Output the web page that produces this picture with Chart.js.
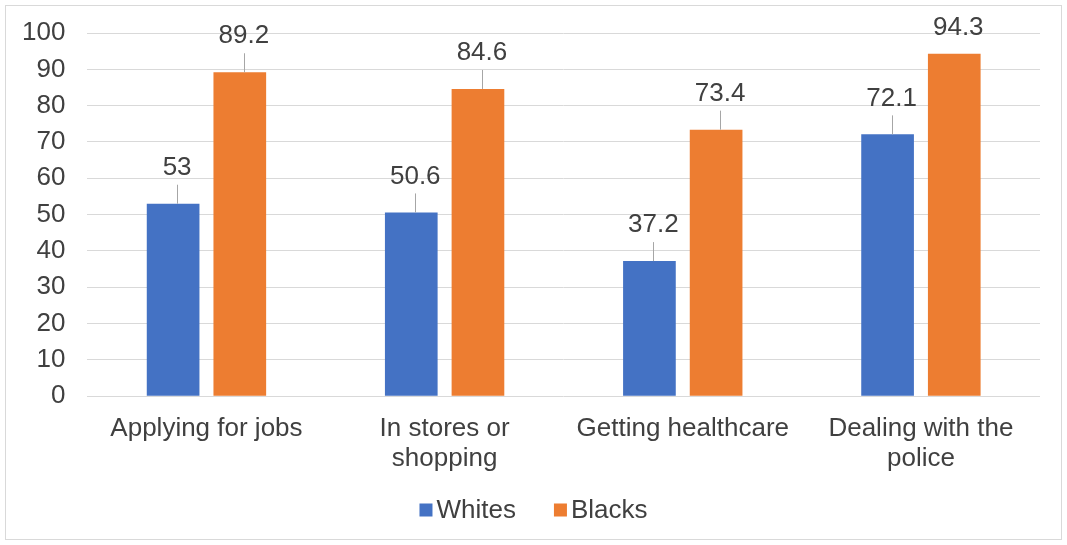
<!DOCTYPE html>
<html>
<head>
<meta charset="utf-8">
<script src="https://cdn.jsdelivr.net/npm/chart.js@4/dist/chart.umd.min.js"></script>
<style>
  body { margin: 0; background: #fff; }
  #wrap { width: 1067px; height: 545px; position: relative; }
</style>
</head>
<body>
<div id="wrap"><canvas id="chart"></canvas></div>
<script>
// data
var categories = [['Applying for jobs'], ['In stores or', 'shopping'], ['Getting healthcare'], ['Dealing with the', 'police']];
var whites = [53, 50.6, 37.2, 72.1];
var blacks = [89.2, 84.6, 73.4, 94.3];
var yTicks = [0, 10, 20, 30, 40, 50, 60, 70, 80, 90, 100];

var textColor = '#404040';
var fontName = "'Liberation Sans', Arial, sans-serif";
Chart.defaults.font.family = fontName;
Chart.defaults.font.size = 26;
Chart.defaults.color = textColor;

// outer frame
var framePlugin = {
  id: 'frame',
  afterDraw: function(chart) {
    var ctx = chart.ctx;
    ctx.save();
    ctx.strokeStyle = '#d9d9d9';
    ctx.lineWidth = 1;
    ctx.strokeRect(5.5, 5.5, chart.width - 11, chart.height - 11);
    ctx.restore();
  }
};

// legend drawn by hand so the box sits close to the text
var legendPlugin = {
  id: 'tightLegend',
  afterDraw: function(chart) {
    var ctx = chart.ctx;
    var box = 13, gap = 4, itemGap = 38, y = 510;
    ctx.save();
    ctx.font = '26px ' + fontName;
    ctx.textBaseline = 'middle';
    var items = chart.data.datasets.map(function(ds) {
      return { text: ds.label, color: ds.backgroundColor, w: box + gap + ctx.measureText(ds.label).width };
    });
    var total = items.reduce(function(s, it) { return s + it.w; }, 0) + itemGap * (items.length - 1);
    var x = (chart.width - total) / 2;
    items.forEach(function(it) {
      ctx.fillStyle = it.color;
      ctx.fillRect(x, y - box / 2, box, box);
      ctx.fillStyle = textColor;
      ctx.fillText(it.text, x + box + gap, y + 1);
      x += it.w + itemGap;
    });
    ctx.restore();
  }
};

// value labels with leader lines, like the excel callouts
var labelPlugin = {
  id: 'callouts',
  afterDatasetsDraw: function(chart) {
    var ctx = chart.ctx;
    ctx.save();
    ctx.font = '26px ' + fontName;
    ctx.fillStyle = textColor;
    ctx.textAlign = 'center';
    ctx.textBaseline = 'middle';
    chart.data.datasets.forEach(function(ds, di) {
      var meta = chart.getDatasetMeta(di);
      meta.data.forEach(function(bar, i) {
        var x = bar.x + 4;
        var ly = Math.max(bar.y - 36, chart.chartArea.top - 5);
        if (bar.y - ly > 28) {
          ctx.strokeStyle = '#a6a6a6';
          ctx.lineWidth = 1;
          ctx.beginPath();
          ctx.moveTo(Math.round(x) + 0.5, ly + 17);
          ctx.lineTo(Math.round(x) + 0.5, bar.y);
          ctx.stroke();
        }
        ctx.fillText(String(ds.data[i]), x, ly);
      });
    });
    ctx.restore();
  }
};

new Chart(document.getElementById('chart'), {
  type: 'bar',
  data: {
    labels: categories,
    datasets: [
      { label: 'Whites', data: whites, backgroundColor: '#4472c4', categoryPercentage: 0.56, barPercentage: 0.79 },
      { label: 'Blacks', data: blacks, backgroundColor: '#ed7d31', categoryPercentage: 0.56, barPercentage: 0.79 }
    ]
  },
  options: {
    responsive: true,
    maintainAspectRatio: false,
    animation: false,
    layout: { padding: { left: 0, right: 27, top: 0, bottom: 61 } },
    plugins: {
      legend: { display: false },
      tooltip: { enabled: false }
    },
    scales: {
      x: {
        grid: { display: false },
        border: { display: false },
        ticks: { color: textColor, padding: 10, maxRotation: 0, font: { size: 26, lineHeight: 1.15 } }
      },
      y: {
        min: 0,
        max: 100,
        afterBuildTicks: function(axis) {
          axis.ticks = yTicks.map(function(v) { return { value: v }; });
        },
        grid: { color: '#d9d9d9', drawTicks: false },
        border: { display: false },
        ticks: { color: textColor, padding: 22, autoSkip: false, font: { size: 26, lineHeight: 0.85 } }
      }
    }
  },
  plugins: [framePlugin, labelPlugin, legendPlugin]
});
</script>
</body>
</html>
